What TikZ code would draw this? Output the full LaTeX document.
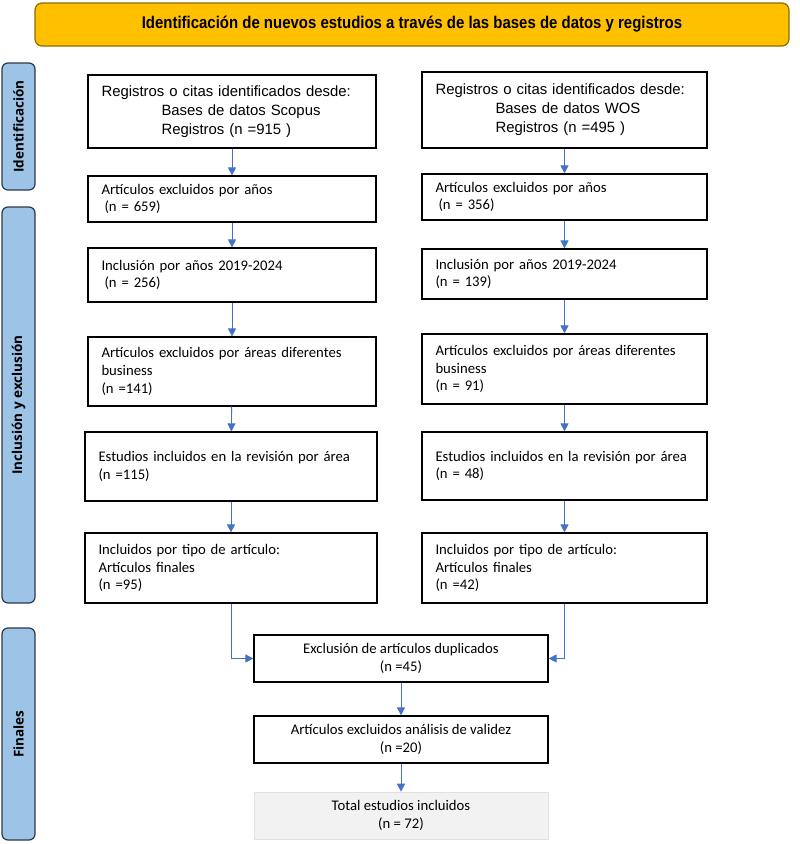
\documentclass[tikz,border=0pt]{standalone}
\usepackage{fontspec}
\usetikzlibrary{arrows.meta}
\setmainfont{Carlito}
\newfontfamily\calfont{Carlito}
\newfontfamily\arfont{Liberation Sans}
\newfontfamily\bannerfont[FakeStretch=0.88]{Liberation Sans}
\newfontfamily\sidefont{Open Sans}
\definecolor{gold}{HTML}{FFC000}
\definecolor{goldline}{HTML}{8C6D00}
\definecolor{sideblue}{HTML}{9DC3E6}
\definecolor{sideline}{HTML}{2B3A4A}
\definecolor{arrowblue}{HTML}{4472C4}
\definecolor{totalgray}{HTML}{F2F2F2}
\tikzset{
  box/.style={draw=black, line width=1.2pt, fill=white, inner xsep=13.5pt, inner ysep=0pt,
    align=left, font=\calfont\fontsize{14.7}{17.8}\selectfont},
  arbox/.style={box, font=\arfont\fontsize{14.9}{19}\selectfont},
  cbox/.style={draw=black, line width=1.2pt, fill=white, inner sep=0pt, align=center,
    font=\calfont\fontsize{14.7}{17.8}\selectfont},
  sidebar/.style={draw=sideline, line width=1.2pt, fill=sideblue, rounded corners=6pt,
    minimum width=33pt, inner sep=0pt},
  sidelabel/.style={rotate=90, font=\sidefont\bfseries\fontsize{13.5}{15}\selectfont},
  flow/.style={draw=arrowblue, line width=0.9pt, -{Triangle[width=8pt,length=8pt]}}
}
\begin{document}
\begin{tikzpicture}[x=1pt,y=-1pt]
\useasboundingbox (0,0) rectangle (800,844);
% banner
\node[draw=goldline, line width=1.2pt, fill=gold, rounded corners=7pt,
  minimum width=754pt, minimum height=43pt, inner sep=0pt,
  font=\bannerfont\bfseries\fontsize{17}{20}\selectfont] (banner) at (412,24.5)
  {Identificación de nuevos estudios a través de las bases de datos y registros};
% side bars
\node[sidebar, minimum height=127pt] (sid) at (18.5,126.5) {};
\node[sidelabel] (sidt) at (sid.center) {Identificación};
\node[sidebar, minimum height=396pt] (sinc) at (18.5,405) {};
\node[sidelabel] (sinct) at (sinc.center) {Inclusión y exclusión};
\node[sidebar, minimum height=212pt] (sfin) at (18.5,734) {};
\node[sidelabel] (sfint) at (sfin.center) {Finales};
% left column
\node[arbox, text width=261pt, minimum height=73pt] (l1) at (232,111.5)
  {Registros o citas identificados desde:\\\hspace*{60pt}Bases de datos Scopus\\\hspace*{60pt}Registros (n =915 )};
\node[box, text width=261pt, minimum height=46pt] (l2) at (232,199)
  {Artículos excluidos por años\\\hspace*{3pt}(n = 659)};
\node[box, text width=261pt, minimum height=54pt] (l3) at (232,275)
  {Inclusión por años 2019-2024\\\hspace*{3pt}(n = 256)};
\node[box, text width=261pt, minimum height=69pt] (l4) at (232,371.5)
  {Artículos excluidos por áreas diferentes\\business\\(n =141)};
\node[box, text width=265pt, minimum height=69pt] (l5) at (231,466.5)
  {Estudios incluidos en la revisión por área\\(n =115)};
\node[box, text width=265pt, minimum height=70pt] (l6) at (231,568)
  {Incluidos por tipo de artículo:\\Artículos finales\\(n =95)};
% right column
\node[arbox, text width=258pt, minimum height=76pt] (r1) at (564.5,110)
  {Registros o citas identificados desde:\\\hspace*{60pt}Bases de datos WOS\\\hspace*{60pt}Registros (n =495 )};
\node[box, text width=258pt, minimum height=46pt] (r2) at (564.5,197)
  {Artículos excluidos por años\\\hspace*{3pt}(n = 356)};
\node[box, text width=258pt, minimum height=50pt] (r3) at (564.5,274)
  {Inclusión por años 2019-2024\\(n = 139)};
\node[box, text width=258pt, minimum height=70pt] (r4) at (564.5,369)
  {Artículos excluidos por áreas diferentes\\business\\(n = 91)};
\node[box, text width=258pt, minimum height=68pt] (r5) at (564.5,466)
  {Estudios incluidos en la revisión por área\\(n = 48)};
\node[box, text width=258pt, minimum height=70pt] (r6) at (564.5,568)
  {Incluidos por tipo de artículo:\\Artículos finales\\(n =42)};
% bottom
\node[cbox, minimum width=294pt, minimum height=47pt] (excl) at (401,658.5)
  {Exclusión de artículos duplicados\\(n =45)};
\node[cbox, minimum width=294pt, minimum height=47pt] (val) at (401,739.5)
  {Artículos excluidos análisis de validez\\(n =20)};
\node[cbox, draw=black!12, line width=0.6pt, fill=totalgray, minimum width=294pt, minimum height=47pt] (tot) at (401,815.5)
  {Total estudios incluidos\\(n = 72)};
% connectors
\draw[flow] (l1) -- (l2);
\draw[flow] (l2) -- (l3);
\draw[flow] (l3) -- (l4);
\draw[flow] (l4) -- (l5);
\draw[flow] (l5) -- (l6);
\draw[flow] (r1) -- (r2);
\draw[flow] (r2) -- (r3);
\draw[flow] (r3) -- (r4);
\draw[flow] (r4) -- (r5);
\draw[flow] (r5) -- (r6);
\draw[flow] (l6.south) |- (excl.west);
\draw[flow] (r6.south) |- (excl.east);
\draw[flow] (excl) -- (val);
\draw[flow] (val) -- (tot);
\end{tikzpicture}
\end{document}
